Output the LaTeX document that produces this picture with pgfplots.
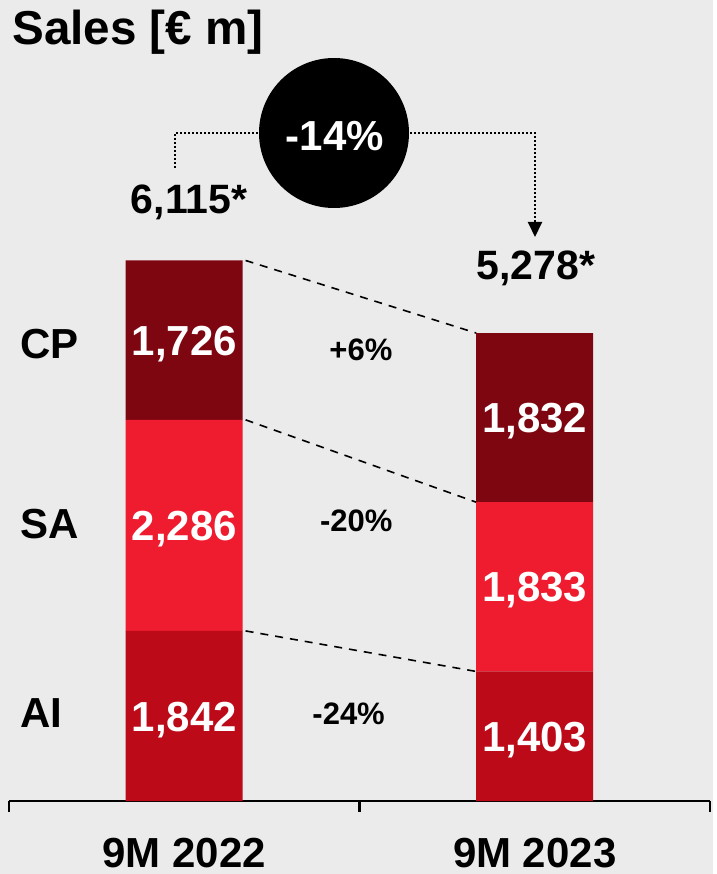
\documentclass[border=0pt]{standalone}
\usepackage{pgfplots}
\pgfplotsset{compat=1.18}
\usepackage{fontspec}
\setmainfont{Liberation Sans}
\usetikzlibrary{arrows.meta}
\definecolor{bg}{HTML}{EBEBEB}
\definecolor{cpred}{HTML}{7E0611}
\definecolor{sared}{HTML}{EE1C2E}
\definecolor{aired}{HTML}{BC0A18}
\newcommand{\fs}[1]{\fontsize{#1}{#1}\selectfont\bfseries}

\begin{document}
\begin{tikzpicture}[
  big/.style={inner sep=0pt, font=\fs{21pt}, text height=15.1pt, text depth=0pt},
  small/.style={inner sep=0pt, font=\fs{15.5pt}, text height=11.2pt, text depth=0pt}]
% background, in pixel units of the reference
\begin{scope}[x=0.5pt,y=-0.5pt,shift={(-4.5pt,400.5pt)}]
\fill[bg] (0,0) rectangle (713,874);
\end{scope}
\begin{axis}[
  at={(0,0)}, anchor=south west, scale only axis,
  width=350.5pt, height=400.5pt,
  xmin=0, xmax=2, ymin=0, ymax=8675, clip=false,
  ybar stacked, bar width=58.5pt,
  axis x line*=bottom, axis y line=none,
  x axis line style={-, line width=1.4pt},
  xtick={0,1,2}, xticklabels={,,},
  tick style={black, line width=1.2pt}, major tick length=5.5pt, tick align=outside,
  extra x ticks={0.5,1.5}, extra x tick labels={9M 2022,9M 2023},
  extra x tick style={major tick length=0pt,
    tick label style={font=\fs{21pt}, anchor=base, inner sep=0pt, yshift=-33pt}},
]
\addplot[fill=aired, draw=none] coordinates {(0.5,1842) (1.5,1403)};
\addplot[fill=sared, draw=none] coordinates {(0.5,2286) (1.5,1833)};
\addplot[fill=cpred, draw=none] coordinates {(0.5,1726) (1.5,1832)};

% connectors between segment tops
\draw[line width=0.8pt, dash pattern=on 4pt off 3.5pt] (axis cs:0.675,1842) -- (axis cs:1.333,1403);
\draw[line width=0.8pt, dash pattern=on 4pt off 3.5pt] (axis cs:0.675,4128) -- (axis cs:1.333,3236);
\draw[line width=0.8pt, dash pattern=on 4pt off 3.5pt] (axis cs:0.675,5854) -- (axis cs:1.333,5068);

% segment value positions (middle of each segment)
\coordinate (a1) at (axis cs:0.5,921);
\coordinate (s1) at (axis cs:0.5,2985);
\coordinate (c1) at (axis cs:0.5,4991);
\coordinate (a2) at (axis cs:1.5,701.5);
\coordinate (s2) at (axis cs:1.5,2319.5);
\coordinate (c2) at (axis cs:1.5,4152);

% totals
\node[anchor=base, inner sep=0pt, font=\fs{20.5pt}] at (axis cs:0.5135,6368) {6,115*};
\node[anchor=base, inner sep=0pt, font=\fs{20.5pt}] at (axis cs:1.5036,5643) {5,278*};

% changes
\node[small] at (axis cs:1.004,4895) {+6\%};
\node[small] at (axis cs:0.991,3043) {-20\%};
\node[small] at (axis cs:0.969,953) {-24\%};

% segment names
\node[big, anchor=west] at (axis cs:0.031,4960) {CP};
\node[big, anchor=west] at (axis cs:0.031,3011) {SA};
\node[big, anchor=west] at (axis cs:0.031,964) {AI};
\end{axis}
\node[big, text=white] at (a1) {1,842};
\node[big, text=white] at (s1) {2,286};
\node[big, text=white] at (c1) {1,726};
\node[big, text=white] at (a2) {1,403};
\node[big, text=white] at (s2) {1,833};
\node[big, text=white] at (c2) {1,832};
\begin{scope}[x=0.5pt,y=-0.5pt,shift={(-4.5pt,400.5pt)}]
\node[anchor=base west, inner sep=0pt, font=\fs{23.8pt}] at (12,45) {Sales [€ m]};
\draw[line width=1pt, dash pattern=on 1pt off 1pt] (175,168) -- (175,133) -- (262,133);
\draw[line width=1pt, dash pattern=on 1pt off 1pt, -{Triangle[width=7pt,length=7.5pt]}]
  (406,133) -- (535,133) -- (535,237);
\fill[black] (334,133) circle[radius=37.5pt];
\node[big, text=white] at (335,135) {-14\%};
\end{scope}
\end{tikzpicture}
\end{document}
